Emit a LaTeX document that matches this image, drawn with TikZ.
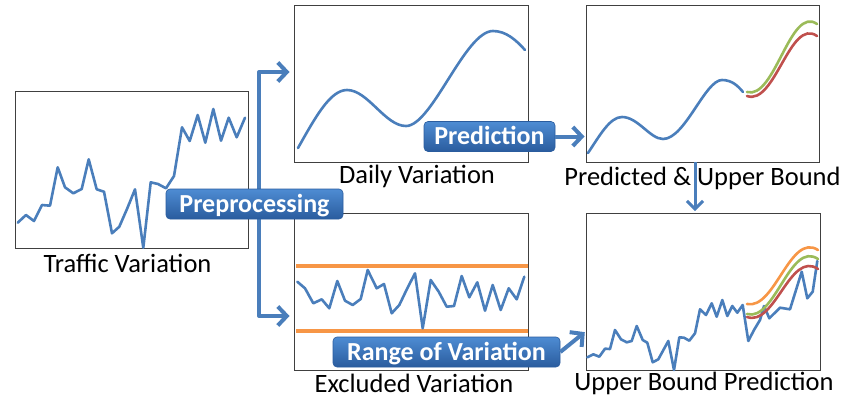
\documentclass[tikz,border=0pt]{standalone}
\usepackage{fontspec}
\setmainfont{Carlito}
\usetikzlibrary{arrows.meta,calc}
\definecolor{series}{HTML}{4A7EBB}
\definecolor{bandorange}{HTML}{F79646}
\definecolor{boundgreen}{HTML}{9BBB59}
\definecolor{boundred}{HTML}{C0504D}
\definecolor{frame}{HTML}{404040}
\definecolor{btntop}{HTML}{4E8CD3}
\definecolor{btnbot}{HTML}{2A5C9E}
\begin{document}
\begin{tikzpicture}[x=1pt,y=-1pt,
  panel/.style={draw=frame, line width=0.9pt, minimum width=234pt, minimum height=157pt, inner sep=0pt},
  caption/.style={anchor=base, inner sep=0pt, font=\fontsize{26.5}{29}\selectfont},
  trace/.style={series, line width=2.6pt, line join=round, line cap=round},
  band/.style={bandorange, line width=4.5pt},
  upperbound/.style={line width=2.6pt, line cap=round},
  button/.style={rounded corners=4pt, top color=btntop, bottom color=btnbot, draw=btnbot, line width=0.6pt,
    text=white, font=\bfseries\fontsize{26}{28}\selectfont, inner sep=0pt, minimum height=30pt,
    text height=16pt, text depth=0pt},
  flow/.style={series, line width=4pt, -{Straight Barb[length=9pt,width=19pt]}},
  thinflow/.style={series, line width=3pt, -{Straight Barb[length=8pt,width=16pt]}},
]
\useasboundingbox (0,0) rectangle (843,400);

% panels
\node[panel, minimum width=233pt] (traffic) at (131.5,169.5) {};
\node[panel] (daily) at (411,83.5) {};
\node[panel, minimum width=233pt] (upper) at (702.5,83.5) {};
\node[panel] (excluded) at (411,291.5) {};
\node[panel] (final) at (703,291.5) {};

% captions
\node[caption] (trafficcap) at (127.5,272) {Traffic Variation};
\node[caption] (dailycap) at (417,183) {Daily Variation};
\node[caption] (uppercap) at (702.5,185) {Predicted \& Upper Bound};
\node[caption] (excludedcap) at (414,392) {Excluded Variation};
\node[caption] (finalcap) at (704,390) {Upper Bound Prediction};

% raw traffic
\draw[trace] plot coordinates {(17.7,222.7) (26,215) (34,221) (42,205) (50,205.7) (57.7,167.3) (65,187.3)
  (73.3,193.3) (81.7,189) (88.7,159.3) (96.7,189.3) (104,191.7) (112,233.3) (119.3,226.7) (127.3,208.3)
  (135,189.3) (143.3,247.7) (150.7,182.3) (158,184) (166,188.3) (174,176) (182,127.3) (189.7,141)
  (197.7,115) (205.3,142.7) (213.3,109) (221,140.7) (228.7,117.7) (236.7,137.3) (245,117.7)};

% daily component
\draw[trace] (298,148) .. controls (315,118) and (330,90) .. (347,90)
  .. controls (368,90) and (385,126) .. (406,126)
  .. controls (432,126) and (465,31) .. (493,31)
  .. controls (506,31) and (516,40) .. (525,50);

% prediction with bounds
\draw[trace] (588,153) .. controls (600,135) and (610,117) .. (622,117)
  .. controls (638,117) and (650,139) .. (663,139)
  .. controls (685,139) and (705,80) .. (722,80)
  .. controls (732,80) and (738,86) .. (743,92);
\draw[upperbound, boundgreen] (747,92) .. controls (775,100) and (790,5) .. (817,24);
\draw[upperbound, boundred] (747,96) .. controls (775,106) and (790,17) .. (817,36);

% excluded variation and its range
\draw[band] (296,266) -- (528,266);
\draw[band] (296,331) -- (528,331);
\draw[trace] plot coordinates {(297.3,281.7) (305,288.3) (313.3,303.3) (321.7,299.3) (329.3,308.3) (337.3,281)
  (345,300.7) (352.7,305) (360.7,299) (367.7,270) (376.7,288.3) (384,284) (391.7,313.3) (399.3,305)
  (407.3,288.3) (415,273.3) (422.7,328.3) (430.7,280) (438.7,291.7) (446.7,306.7) (454,306) (461.7,276)
  (469.3,297.3) (477.3,282.3) (485,310.7) (492.7,285) (500.7,310) (508.7,288.3) (516.7,299.3) (524.3,276.7)};

% final result
\draw[trace] plot coordinates {(587.3,357.3) (593.3,354.3) (599.3,356.7) (605,348.7) (610,349) (615,330)
  (621,339.3) (626.7,342.3) (631.7,341) (636.7,326) (642.7,340) (647.3,342.7) (652.7,362.3) (658.3,359.3)
  (668.3,341) (674,370) (679.3,337.3) (684,337.7) (689.3,340.7) (695,333.3) (700,309.3) (706,315)
  (711.7,303.3) (716.7,316.7) (722.3,300) (727.3,316) (732.3,306) (737.3,312.7) (742.7,305) (748.3,341)
  (754,330) (760,320) (764,306) (769.3,318.3) (780,307.7) (790,309.3) (801.7,271.7) (807.3,298.3)
  (812.7,291.7) (817.3,261)};
\draw[upperbound, bandorange] (747,304) .. controls (775,310) and (790,232) .. (818,250);
\draw[upperbound, boundgreen] (747,314) .. controls (775,322) and (790,240) .. (818,259);
\draw[upperbound, boundred] (747,317) .. controls (775,327) and (790,250) .. (818,269);

% connectors
\coordinate (forktop) at (259,72);
\coordinate (forkbot) at (259,316);
\draw[series, line width=4pt, line join=round,
  {Straight Barb[length=9pt,width=19pt]}-{Straight Barb[length=9pt,width=19pt]},
  shorten <=4pt, shorten >=4pt]
  (forktop -| daily.west) -- (forktop) -- (forkbot) -- (forkbot -| excluded.west);

\node[button, minimum width=177pt] (pre) at (254.5,204) {Preprocessing};
\node[button, minimum width=131pt] (pred) at (489.5,136.5) {Prediction};
\node[button, minimum width=227pt] (range) at (446.5,352) {Range of Variation};

\draw[flow, shorten >=1pt] (pred.east) -- (pred.east -| upper.west);
\coordinate (drop) at ($(upper.south)+(-7.5,0)$);
\draw[thinflow, shorten >=1.5pt] (drop) -- (drop |- final.north);
\draw[flow, shorten >=1pt] (range.east) -- ($(final.west)+(0,40)$);
\end{tikzpicture}
\end{document}
